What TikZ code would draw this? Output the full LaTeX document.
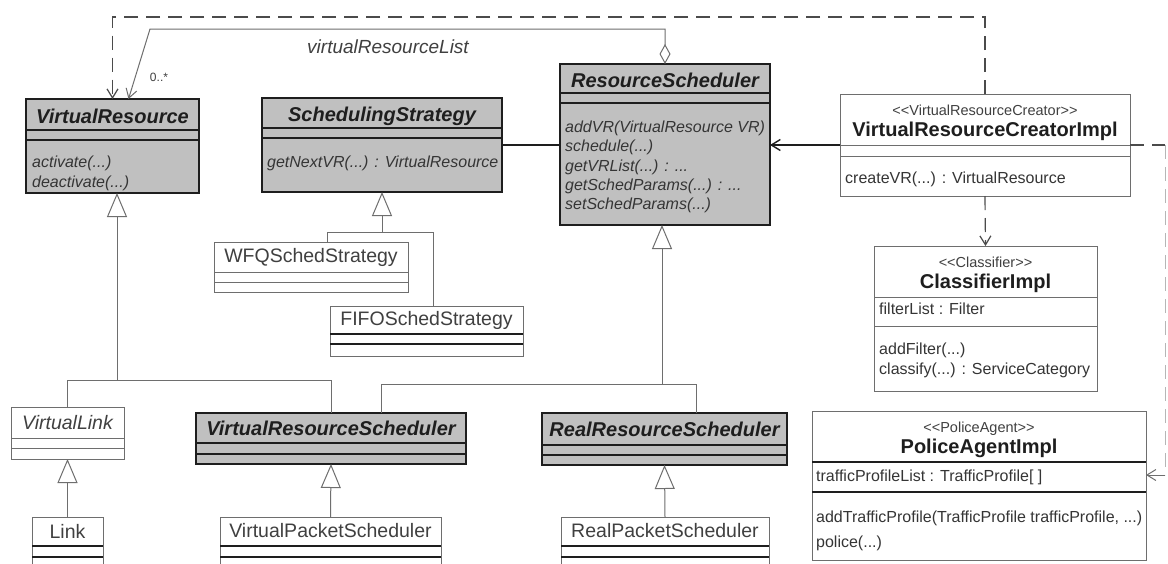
\documentclass[tikz,border=0pt]{standalone}
\usepackage{fontspec}
\setmainfont{Liberation Sans}
\usetikzlibrary{arrows.meta,calc}

\definecolor{abstractfill}{HTML}{C0C0C0}
\definecolor{edge}{HTML}{6E6E6E}
\definecolor{ink}{HTML}{1E1E1E}

% stereotype brackets written as two separate characters
\newcommand{\stereo}[1]{<\kern0pt<#1>\kern0pt>}

% class frame: style, name, x1, y1, x2, y2, first and second compartment lines, line style
\newcommand{\umlclass}[9]{%
  \node[#1, minimum width={(#5-#3)*1pt}, minimum height={(#6-#4)*1pt}] (#2) at (#3,#4) {};
  \draw[#9] (#3,#7) -- (#5,#7);
  \draw[#9] (#3,#8) -- (#5,#8);
}

\tikzset{
  classframe/.style={draw, inner sep=0pt, outer sep=0pt, anchor=north west},
  abstractcls/.style={classframe, fill=abstractfill, draw=ink, line width=1.4pt},
  plaincls/.style={classframe, fill=white, draw=edge, line width=1pt},
  darksep/.style={draw=ink, line width=1.4pt},
  lightsep/.style={draw=edge, line width=1pt},
  abstitle/.style={font=\fontsize{20}{24}\selectfont\bfseries\itshape, text=ink, inner sep=0pt},
  plaintitle/.style={font=\fontsize{19.5}{23}\selectfont, text=ink!85, inner sep=0pt},
  implname/.style={font=\fontsize{20}{24}\selectfont\bfseries, text=ink, inner sep=0pt},
  stereotype/.style={font=\fontsize{14.5}{17}\selectfont, text=ink!85, inner sep=0pt},
  member/.style={font=\fontsize{16}{19}\selectfont, text=ink!90, inner sep=0pt, anchor=west},
  absmember/.style={member, font=\fontsize{16}{19}\selectfont\itshape},
  rolelabel/.style={font=\fontsize{19}{22}\selectfont\itshape, text=ink!85, inner sep=0pt},
  multlabel/.style={font=\fontsize{12}{14}\selectfont, text=ink!85, inner sep=0pt},
  conn/.style={draw=edge, line width=1pt},
  strongconn/.style={draw=ink, line width=1.4pt},
  dep/.style={draw=ink!80, line width=1.2pt, dash pattern=on 14pt off 8pt},
  openhead/.style={-{Straight Barb[length=9pt,width=11pt]}},
  genarrow/.style={conn, -{Triangle[open,length=24pt,width=20pt]}},
}

\begin{document}
\begin{tikzpicture}[x=1pt,y=-1pt]
\useasboundingbox (0,0) rectangle (1168,563);
\clip (0,0) rectangle (1168,563);
\fill[white] (0,0) rectangle (1168,563);

% ---------------- class frames ----------------
\umlclass{abstractcls}{VR}{26}{99}{199}{193}{130}{140}{darksep}
\umlclass{abstractcls}{SS}{262}{98}{502}{192}{128}{138}{darksep}
\umlclass{abstractcls}{RS}{560}{64}{770}{225}{93}{103}{darksep}
\umlclass{plaincls}{VRC}{840}{94}{1130}{196}{145}{156}{lightsep}
\umlclass{plaincls}{CL}{874}{246}{1097}{391}{297}{326}{lightsep}
\umlclass{plaincls}{PAI}{812}{411}{1146}{560}{462}{492}{darksep}
\umlclass{plaincls}{WFQ}{214}{242}{408}{292}{272}{282}{lightsep}
\umlclass{plaincls}{FIFO}{330}{306}{523}{356}{334}{344}{darksep}
\umlclass{plaincls}{VL}{11}{407}{124}{459}{438}{448}{lightsep}
\umlclass{plaincls}{Link}{32}{517}{103}{575}{546}{557}{darksep}
\umlclass{abstractcls}{VRS}{196}{413}{466}{464}{443}{454}{darksep}
\umlclass{plaincls}{VPS}{220}{517}{441}{575}{546}{557}{darksep}
\umlclass{abstractcls}{RRS}{542}{413}{787}{465}{445}{455}{darksep}
\umlclass{plaincls}{RPS}{561}{517}{769}{575}{546}{557}{darksep}

% ---------------- class texts ----------------
\node[abstitle] (vr-name) at (112.5,116) {VirtualResource};
\node[absmember] (vr-op1) at (32,163) {activate(...)};
\node[absmember] (vr-op2) at (32,183) {deactivate(...)};

\node[abstitle] (ss-name) at (382,116) {SchedulingStrategy};
\node[absmember] (ss-op1) at (267,163) {getNextVR(...) : VirtualResource};

\node[abstitle] (rs-name) at (665,80) {ResourceScheduler};
\node[absmember] (rs-op1) at (565,128) {addVR(VirtualResource VR)};
\node[absmember] (rs-op2) at (565,147) {schedule(...)};
\node[absmember] (rs-op3) at (565,167) {getVRList(...) : ...};
\node[absmember] (rs-op4) at (565,186) {getSchedParams(...) : ...};
\node[absmember] (rs-op5) at (565,205) {setSchedParams(...)};

\node[stereotype] (vrc-st) at (985,110) {\stereo{VirtualResourceCreator}};
\node[implname] (vrc-name) at (985,131) {VirtualResourceCreatorImpl};
\node[member] (vrc-op1) at (845,179) {createVR(...) : VirtualResource};

\node[stereotype] (cl-st) at (985.5,262) {\stereo{Classifier}};
\node[implname] (cl-name) at (985.5,283) {ClassifierImpl};
\node[member] (cl-at1) at (879,309) {filterList : Filter};
\node[member] (cl-op1) at (879,350) {addFilter(...)};
\node[member] (cl-op2) at (879,370) {classify(...) : ServiceCategory};

\node[stereotype] (pai-st) at (979,429) {\stereo{PoliceAgent}};
\node[implname] (pai-name) at (979,448) {PoliceAgentImpl};
\node[member] (pai-at1) at (816,477) {trafficProfileList : TrafficProfile[ ]};
\node[member] (pai-op1) at (816,518) {addTrafficProfile(TrafficProfile trafficProfile, ...)};
\node[member] (pai-op2) at (816,543) {police(...)};

\node[plaintitle] (wfq-name) at (311,257) {WFQSchedStrategy};
\node[plaintitle] (fifo-name) at (426.5,320) {FIFOSchedStrategy};
\node[plaintitle, font=\fontsize{19.5}{23}\selectfont\itshape] (vl-name) at (67.5,423) {VirtualLink};
\node[plaintitle] (link-name) at (67.5,531) {Link};
\node[abstitle] (vrs-name) at (331,428) {VirtualResourceScheduler};
\node[plaintitle] (vps-name) at (330.5,531) {VirtualPacketScheduler};
\node[abstitle] (rrs-name) at (664.5,429) {RealResourceScheduler};
\node[plaintitle] (rps-name) at (665,531) {RealPacketScheduler};

% ---------------- connectors ----------------
% creator depends on the virtual resources it builds
\coordinate (depTop) at (985,17);
\draw[dep, openhead] (VRC.north) -- (depTop) -| (VR.north);

% aggregation: the scheduler holds the list of virtual resources
\coordinate (aggTop) at (665,29);
\coordinate (aggBend) at (150,29);
\draw[conn, {Diamond[open,length=20pt,width=11pt]}-{Straight Barb[length=9pt,width=11pt]}]
  (RS.north) -- (aggTop) -- (aggBend) -- ($(VR.north)+(16,0)$);
\node[rolelabel] (role) at (388,47) {virtualResourceList};
\node[multlabel] (mult) at (159,77) {0..*};

% strategy used by the scheduler
\draw[strongconn] (SS.east) -- (SS.east -| RS.west);

% creator navigates to the scheduler
\draw[strongconn, openhead] (VRC.west) -- (VRC.west -| RS.east);

% creator uses the classifier
\draw[dep, openhead] (VRC.south) -- (CL.north);

% creator uses the police agent
\coordinate (paRight) at (1165,145);
\coordinate (paDown) at (1165,475);
\draw[dep] (VRC.east) -- (paRight);
\draw[draw=edge!50, line width=1pt, dash pattern=on 14pt off 8pt] (paRight) -- (paDown);
\draw[conn, openhead] (paDown) -- (paDown -| PAI.east);

% generalisations of VirtualResource
\coordinate (vrBar) at (117,380);
\draw[genarrow] (vrBar) -- (VR.south -| vrBar);
\draw[conn] (VL.north) |- (VRS.north |- vrBar) -- (VRS.north);

% generalisations of SchedulingStrategy
\coordinate (ssBar) at (382,232);
\draw[genarrow] (ssBar) -- (SS.south);
\draw[conn] ($(WFQ.north)+(16,0)$) |- ($(FIFO.north)+(6.5,-74)$) -- ($(FIFO.north)+(6.5,0)$);

% generalisations of ResourceScheduler
\coordinate (rsBar) at (662,384);
\draw[genarrow] (rsBar) -- (RS.south -| rsBar);
\draw[conn] ($(VRS.north)+(50,0)$) |- ($(RRS.north)+(31.5,-29)$) -- ($(RRS.north)+(31.5,0)$);

% leaf classes
\draw[genarrow] (Link.north) -- (VL.south);
\draw[genarrow] (VPS.north) -- (VRS.south);
\draw[genarrow] (RPS.north) -- (RRS.south);
\end{tikzpicture}
\end{document}
